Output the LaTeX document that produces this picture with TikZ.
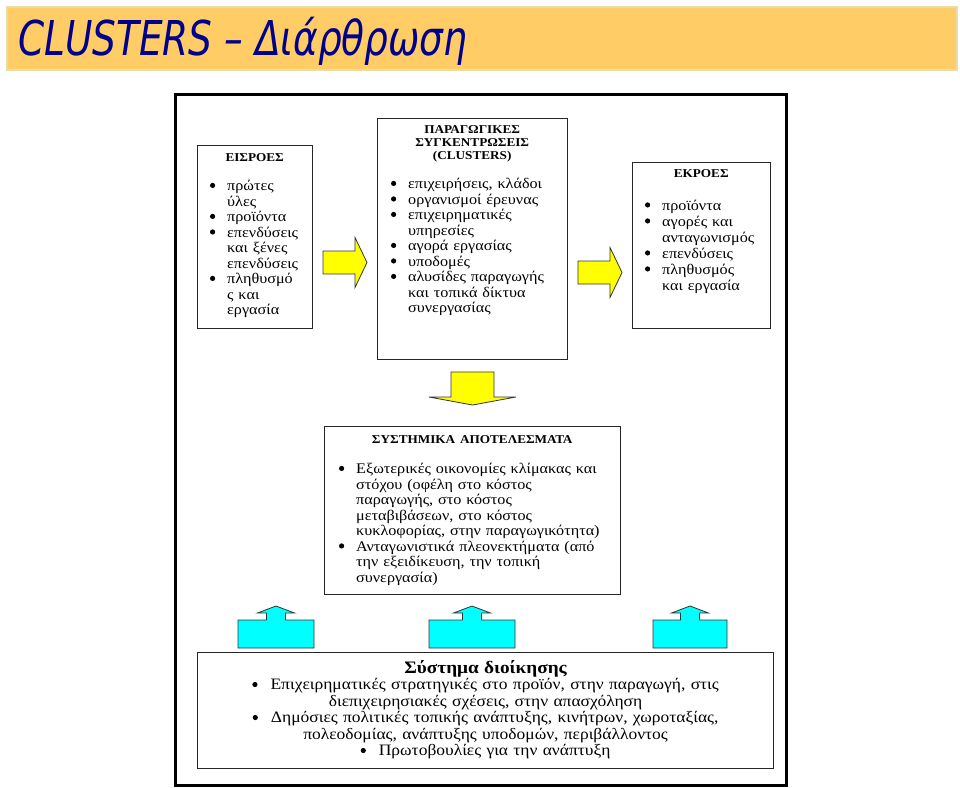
\documentclass[tikz,border=0pt]{standalone}
\usepackage{fontspec}
\setmainfont{Liberation Serif}[FakeStretch=1.1]
\newfontfamily\titlefont{DejaVu Sans}
\usepackage{graphicx}
\usepackage{tikz}
\usetikzlibrary{calc}

\definecolor{TitleBg}{RGB}{255,204,102}
\definecolor{TitleEdge}{RGB}{228,222,168}
\definecolor{TitleBlue}{RGB}{0,0,140}
\definecolor{ArrYellow}{RGB}{255,255,0}
\definecolor{ArrCyan}{RGB}{0,255,255}

\newcommand{\hdr}{\fontsize{12}{13}\selectfont\bfseries}
\newcommand{\dotbullet}{\raisebox{2.6pt}{\tikz\fill (0,0) circle (2.6pt);}}
\newenvironment{bulletlist}[1]{%
    \begin{list}{\dotbullet}{%
        \setlength{\leftmargin}{#1}%
        \setlength{\rightmargin}{-30pt}%
        \setlength{\labelsep}{12pt}%
        \setlength{\labelwidth}{5.2pt}%
        \setlength{\itemsep}{0pt}\setlength{\parsep}{0pt}%
        \setlength{\topsep}{0pt}\setlength{\partopsep}{0pt}}}%
    {\end{list}}

\begin{document}
\begin{tikzpicture}[
        x=1pt, y=-1pt,
        box/.style={draw=black!85, line width=1.2pt, anchor=north west, inner sep=0pt},
        txt/.style={anchor=north west, inner sep=0pt, align=left,
            font=\fontsize{14.7}{15.5}\selectfont},
        yellowarrow/.style={fill=ArrYellow, draw=black!80, line width=0.8pt, line join=miter},
        cyanarrow/.style={fill=ArrCyan, draw=black!80, line width=0.8pt, line join=miter},
    ]
    \useasboundingbox (0,0) rectangle (960,787);

    % title
    \draw[fill=TitleBg, draw=TitleEdge, line width=2pt] (7,7) rectangle (957,70);
    \node[anchor=base west, inner sep=0pt, text=TitleBlue,
          font=\titlefont\itshape\fontsize{48}{50}\selectfont] (title) at (18,55)
          {\scalebox{0.78}[1]{CLUSTERS – Διάρθρωση}};

    % frame
    \draw[line width=3pt] (175,94) rectangle (786,785);

    % boxes
    \node[box, minimum width=115pt, minimum height=183pt] (inputs) at (197,145) {};
    \node[box, minimum width=190pt, minimum height=241pt] (cluster) at (377,118) {};
    \node[box, minimum width=138pt, minimum height=166pt] (outputs) at (632,162) {};
    \node[box, minimum width=296pt, minimum height=168pt] (results) at (324,426) {};
    \node[box, minimum width=576pt, minimum height=116pt] (governance) at (197,652) {};

    % box texts
    \node[txt, text width=115pt] (inputstxt) at ([yshift=-8pt]inputs.north west) {%
        {\centering\hdr ΕΙΣΡΟΕΣ\par}\vspace{14pt}
        \begin{bulletlist}{30pt}
            \item πρώτες\newline ύλες
            \item προϊόντα
            \item επενδύσεις\newline και ξένες\newline επενδύσεις
            \item πληθυσμό\newline ς και\newline εργασία
        \end{bulletlist}};
    \node[txt, text width=190pt] (clustertxt) at ([yshift=-7pt]cluster.north west) {%
        {\centering\hdr ΠΑΡΑΓΩΓΙΚΕΣ\\ΣΥΓΚΕΝΤΡΩΣΕΙΣ\\(CLUSTERS)\par}\vspace{14pt}
        \begin{bulletlist}{31pt}
            \item επιχειρήσεις, κλάδοι
            \item οργανισμοί έρευνας
            \item επιχειρηματικές\newline υπηρεσίες
            \item αγορά εργασίας
            \item υποδομές
            \item αλυσίδες παραγωγής\newline και τοπικά δίκτυα\newline συνεργασίας
        \end{bulletlist}};
    \node[txt, text width=138pt, font=\fontsize{14.7}{16}\selectfont] (outputstxt)
          at ([yshift=-7pt]outputs.north west) {%
        {\centering\hdr ΕΚΡΟΕΣ\par}\vspace{17pt}
        \begin{bulletlist}{30pt}
            \item προϊόντα
            \item αγορές και\newline ανταγωνισμός
            \item επενδύσεις
            \item πληθυσμός\newline και εργασία
        \end{bulletlist}};
    \node[txt, text width=296pt] (resultstxt) at ([yshift=-9pt]results.north west) {%
        {\centering\hdr ΣΥΣΤΗΜΙΚΑ ΑΠΟΤΕΛΕΣΜΑΤΑ\par}\vspace{15pt}
        \begin{bulletlist}{32pt}
            \item Εξωτερικές οικονομίες κλίμακας και\newline στόχου (οφέλη στο κόστος\newline
                παραγωγής, στο κόστος\newline μεταβιβάσεων, στο κόστος\newline
                κυκλοφορίας, στην παραγωγικότητα)
            \item Ανταγωνιστικά πλεονεκτήματα (από\newline την εξειδίκευση, την τοπική\newline
                συνεργασία)
        \end{bulletlist}};
    \node[txt, anchor=north, text width=576pt, align=center,
          font=\fontsize{15.9}{16.5}\selectfont] (governancetxt)
          at ([yshift=-8pt]governance.north) {%
        {\bfseries\fontsize{17.5}{16.5}\selectfont Σύστημα διοίκησης\par}
        \dotbullet\hspace{13pt}Επιχειρηματικές στρατηγικές στο προϊόν, στην παραγωγή, στις\\
        διεπιχειρησιακές σχέσεις, στην απασχόληση\\
        \dotbullet\hspace{13pt}Δημόσιες πολιτικές τοπικής ανάπτυξης, κινήτρων, χωροταξίας,\\
        πολεοδομίας, ανάπτυξης υποδομών, περιβάλλοντος\\
        \dotbullet\hspace{13pt}Πρωτοβουλίες για την ανάπτυξη};

    % yellow arrows
    \foreach \ax/\ay in {323/262.5, 578/272.5}
        \draw[yellowarrow] (\ax,\ay-11.5) -- (\ax+32,\ay-11.5) -- (\ax+32,\ay-25)
            -- (\ax+44,\ay) -- (\ax+32,\ay+25) -- (\ax+32,\ay+11.5)
            -- (\ax,\ay+11.5) -- cycle;
    \draw[yellowarrow] (451,372) -- (494,372) -- (494,397) -- (516,397) -- (472.5,405)
        -- (429,397) -- (451,397) -- cycle;

    % cyan arrows
    \foreach \cx/\hw in {276/38, 472/43, 690/37}
        \draw[cyanarrow] (\cx-\hw,648) -- (\cx-\hw,620) -- (\cx-9.5,620) -- (\cx-9.5,613)
            -- (\cx-18.5,613) -- (\cx,606) -- (\cx+18.5,613) -- (\cx+9.5,613)
            -- (\cx+9.5,620) -- (\cx+\hw,620) -- (\cx+\hw,648) -- cycle;
\end{tikzpicture}
\end{document}
